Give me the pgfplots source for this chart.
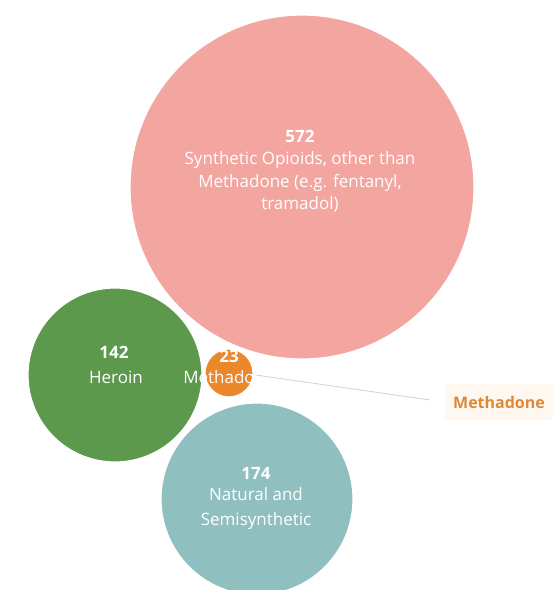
\documentclass[border=0pt]{standalone}
\usepackage{pgfplots}
\pgfplotsset{compat=1.18}
\usepackage{fontspec}
\setmainfont{Open Sans}
\definecolor{cpink}{RGB}{243,165,159}
\definecolor{cgreen}{RGB}{92,153,76}
\definecolor{corange}{RGB}{236,136,44}
\definecolor{cteal}{RGB}{143,192,191}
\definecolor{clabel}{RGB}{222,137,58}
\definecolor{cbox}{RGB}{254,248,241}
\begin{document}
\begin{tikzpicture}
\begin{axis}[width=557pt,height=590pt,scale only axis,
  xmin=0,xmax=557,ymin=0,ymax=590,y dir=reverse,
  hide axis,clip marker paths=true]
% bubbles: (x, y) centre, mark size = radius
\addplot[only marks,mark=*,mark size=172,mark options={fill=cpink,draw=white,line width=1.2pt}] coordinates {(302,187)};
\addplot[only marks,mark=*,mark size=87,mark options={fill=cgreen,draw=white,line width=1.2pt}] coordinates {(115,375)};
\addplot[only marks,mark=*,mark size=96,mark options={fill=cteal,draw=white,line width=1.2pt}] coordinates {(257,499)};
\addplot[only marks,mark=*,mark size=24,mark options={fill=corange,draw=white,line width=1.2pt}] coordinates {(229,373)};
% labels
\node[white,font=\fontsize{17}{17}\selectfont\bfseries] at (axis cs:300,136) {572};
\node[white,align=center,font=\fontsize{17}{22.5}\selectfont] at (axis cs:300,182) {Synthetic Opioids, other than\\Methadone (e.g. fentanyl,\\tramadol)};
\node[white,font=\fontsize{17}{17}\selectfont\bfseries] at (axis cs:114,352) {142};
\node[white,font=\fontsize{17}{17}\selectfont] at (axis cs:116,377) {Heroin};
\node[white,font=\fontsize{17}{17}\selectfont\bfseries] at (axis cs:256,473) {174};
\node[white,align=center,font=\fontsize{17}{25}\selectfont] at (axis cs:256,509) {Natural and\\Semisynthetic};
\node[white,font=\fontsize{17}{17}\selectfont\bfseries] at (axis cs:229,356) {23};
\node[white,font=\fontsize{17}{17}\selectfont] at (axis cs:229,377) {Methadone};
% callout
\draw[black!18,line width=0.8pt] (axis cs:256,375) -- (axis cs:430,400);
\node[fill=cbox,text=clabel,inner xsep=8pt,inner ysep=12pt,font=\fontsize{16}{16}\selectfont\bfseries] at (axis cs:499,402) {Methadone};
\end{axis}
\pgfresetboundingbox
\path[use as bounding box] (current axis.south west) rectangle (current axis.north east);
\end{tikzpicture}
\end{document}
